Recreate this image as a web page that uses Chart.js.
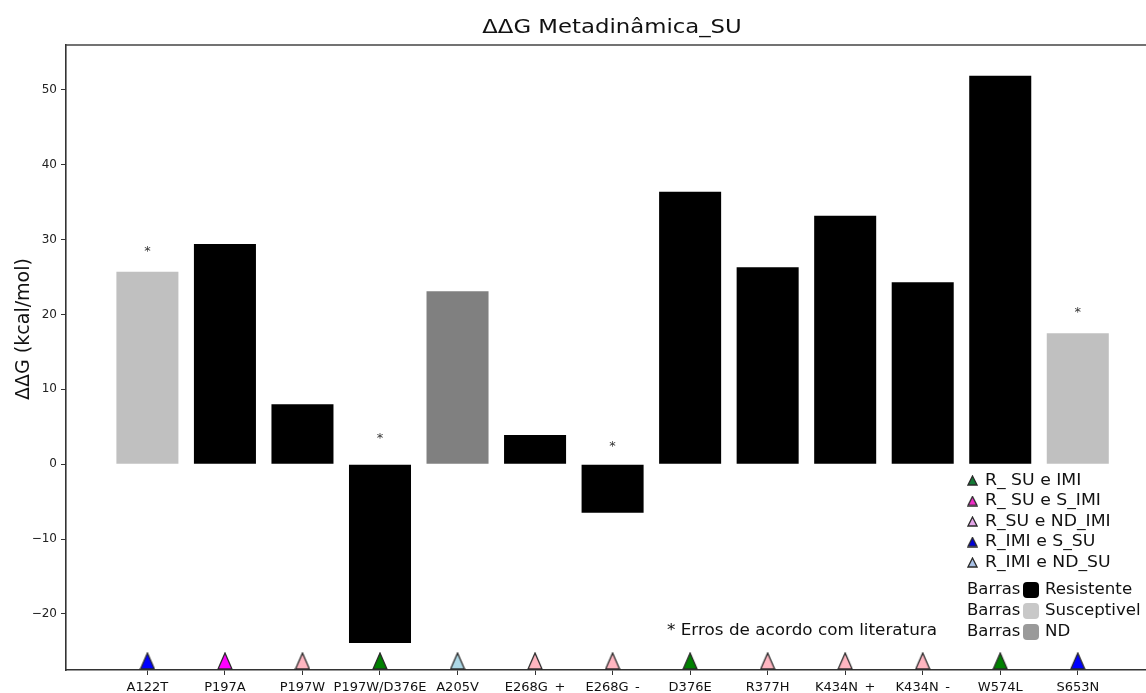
<!DOCTYPE html>
<html lang="pt">
<head>
  <meta charset="UTF-8" />
  <title>ΔΔG Metadinâmica_SU</title>
  <script src="https://cdn.jsdelivr.net/npm/chart.js"></script>
  <style>
    body { margin: 0; background: #ffffff; overflow: hidden; }
    .chart-container { width: 1151px; height: 693px; position: relative; }
  </style>
</head>
<body>
  <div class="chart-container">
    <canvas id="ddgChart"></canvas>
  </div>

  <script>
    // mutations on the x axis
    const mutations = ['A122T', 'P197A', 'P197W', 'P197W/D376E', 'A205V', 'E268G_+', 'E268G_-',
                       'D376E', 'R377H', 'K434N_+', 'K434N_-', 'W574L', 'S653N'];
    // ΔΔG values (kcal/mol)
    const ddg = [25.7, 29.4, 8.0, -23.9, 23.1, 3.9, -6.5, 36.4, 26.3, 33.2, 24.3, 51.9, 17.5];
    // bar class: R = Resistente, S = Susceptivel, ND
    const barClass = ['S', 'R', 'R', 'R', 'ND', 'R', 'R', 'R', 'R', 'R', 'R', 'R', 'S'];
    // triangle class under each bar
    const markerClass = ['R_IMI', 'R_SU_S_IMI', 'R_SU_ND', 'R_SU_IMI', 'R_IMI_ND', 'R_SU_ND', 'R_SU_ND',
                         'R_SU_IMI', 'R_SU_ND', 'R_SU_ND', 'R_SU_ND', 'R_SU_IMI', 'R_IMI'];
    // asterisks (value where the * sits), null = none
    const asterisks = [28.8, null, null, 3.8, null, null, 2.8, null, null, null, null, null, 20.7];
    const yTicks = [-20, -10, 0, 10, 20, 30, 40, 50];

    const barColors = { R: '#000000', S: '#c0c0c0', ND: '#808080' };
    const markerColors = {
      R_SU_IMI: '#008000', R_SU_S_IMI: '#ff00ff', R_SU_ND: '#ffb6c1',
      R_IMI: '#0000ff', R_IMI_ND: '#add8e6'
    };

    const legendTri = [
      ['#137a35', 'R_ SU e IMI'],
      ['#f02ec8', 'R_ SU e S_IMI'],
      ['#e3a6e8', 'R_SU e ND_IMI'],
      ['#0000d8', 'R_IMI e S_SU'],
      ['#a9c1e6', 'R_IMI e ND_SU']
    ];
    const legendBars = [
      ['#000000', 'Resistente'],
      ['#c8c8c8', 'Susceptivel'],
      ['#9a9a9a', 'ND']
    ];

    function triCanvas(color, w, h) {
      const c = document.createElement('canvas');
      c.width = w; c.height = h;
      const g = c.getContext('2d');
      g.beginPath();
      g.moveTo(w / 2, 1);
      g.lineTo(w - 1, h - 1);
      g.lineTo(1, h - 1);
      g.closePath();
      g.fillStyle = color;
      g.fill();
      g.lineWidth = 1.3;
      g.strokeStyle = '#2a2a2a';
      g.stroke();
      return c;
    }

    const font = "'DejaVu Sans', sans-serif";

    // text a little wider than DejaVu, like the reference
    function wideText(ctx, text, x, y, size, sx) {
      ctx.save();
      ctx.translate(x, y);
      ctx.scale(sx, 1);
      ctx.font = size + 'px ' + font;
      ctx.fillText(text, 0, 0);
      ctx.restore();
    }

    const extras = {
      id: 'extras',
      afterDraw(chart) {
        const ctx = chart.ctx;
        const x = chart.scales.x, y = chart.scales.y;
        const a = chart.chartArea;
        ctx.save();
        // frame top line
        ctx.strokeStyle = '#444';
        ctx.lineWidth = 1.6;
        ctx.beginPath();
        ctx.moveTo(a.left, a.top);
        ctx.lineTo(chart.width, a.top);
        ctx.stroke();

        // title
        ctx.fillStyle = '#111';
        ctx.textAlign = 'center';
        ctx.textBaseline = 'middle';
        wideText(ctx, 'ΔΔG Metadinâmica_SU', 612, 28, 20, 1.14);

        // y axis title
        ctx.save();
        ctx.translate(24, 329);
        ctx.rotate(-Math.PI / 2);
        ctx.font = '19px ' + font;
        ctx.fillText('ΔΔG (kcal/mol)', 0, 0);
        ctx.restore();

        // asterisks
        ctx.font = '13px ' + font;
        ctx.fillStyle = '#333';
        asterisks.forEach((v, i) => {
          if (v === null) return;
          ctx.fillText('*', x.getPixelForValue(i), y.getPixelForValue(v) + 3);
        });

        // footnote
        ctx.textAlign = 'left';
        ctx.fillStyle = '#111';
        wideText(ctx, '* Erros de acordo com literatura', 667, 631, 15, 1.12);

        // triangle legend
        legendTri.forEach((item, k) => {
          const cy = 481 + k * 20.5;
          ctx.drawImage(triCanvas(item[0], 11, 11), 967, cy - 6);
          ctx.fillStyle = '#111';
          wideText(ctx, item[1], 985, cy, 15, 1.15);
        });

        // bar legend
        legendBars.forEach((item, k) => {
          const cy = 590 + k * 21;
          ctx.fillStyle = '#111';
          wideText(ctx, 'Barras', 967, cy, 15, 1.1);
          ctx.fillStyle = item[0];
          ctx.beginPath();
          ctx.roundRect(1023, cy - 8, 16, 16, 4);
          ctx.fill();
          ctx.fillStyle = '#111';
          wideText(ctx, item[1], 1045, cy, 15, 1.11);
        });
        ctx.restore();
      }
    };

    new Chart(document.getElementById('ddgChart'), {
      data: {
        datasets: [
          {
            type: 'bar',
            data: mutations.map((m, i) => ({ x: i, y: ddg[i] })),
            backgroundColor: barClass.map(c => barColors[c]),
            barPercentage: 0.8,
            categoryPercentage: 1.0,
            order: 2
          },
          {
            type: 'scatter',
            data: mutations.map((m, i) => ({ x: i, y: -26.3 })),
            pointStyle: markerClass.map(c => triCanvas(markerColors[c], 16, 18)),
            clip: false,
            order: 1
          }
        ]
      },
      options: {
        responsive: true,
        maintainAspectRatio: false,
        animation: false,
        layout: { padding: { top: 45, left: 0, right: 0, bottom: 0 } },
        plugins: {
          legend: { display: false },
          title: { display: false },
          tooltip: { enabled: false }
        },
        scales: {
          x: {
            type: 'linear',
            offset: false,
            min: -1.05,
            max: 12.88,
            afterBuildTicks: s => { s.ticks = mutations.map((m, i) => ({ value: i })); },
            afterFit: s => { s.height = 23; },
            grid: { offset: false, drawOnChartArea: false, drawTicks: true, tickLength: 5, color: '#333' },
            border: { display: true, color: '#333', width: 1.6 },
            ticks: {
              autoSkip: false,
              maxRotation: 0,
              padding: 5,
              color: '#111',
              font: { family: font, size: 13 },
              callback: v => mutations[v]
            }
          },
          y: {
            min: -27.5,
            max: 56,
            afterBuildTicks: s => { s.ticks = yTicks.map(v => ({ value: v })); },
            afterFit: s => { s.width = 66; },
            grid: { drawOnChartArea: false, drawTicks: true, tickLength: 5, color: '#333' },
            border: { display: true, color: '#333', width: 1.6 },
            ticks: {
              padding: 4,
              color: '#222',
              font: { family: font, size: 12 },
              callback: v => v < 0 ? '\u2212' + Math.abs(v) : String(v)
            }
          }
        }
      },
      plugins: [extras]
    });
  </script>
</body>
</html>
